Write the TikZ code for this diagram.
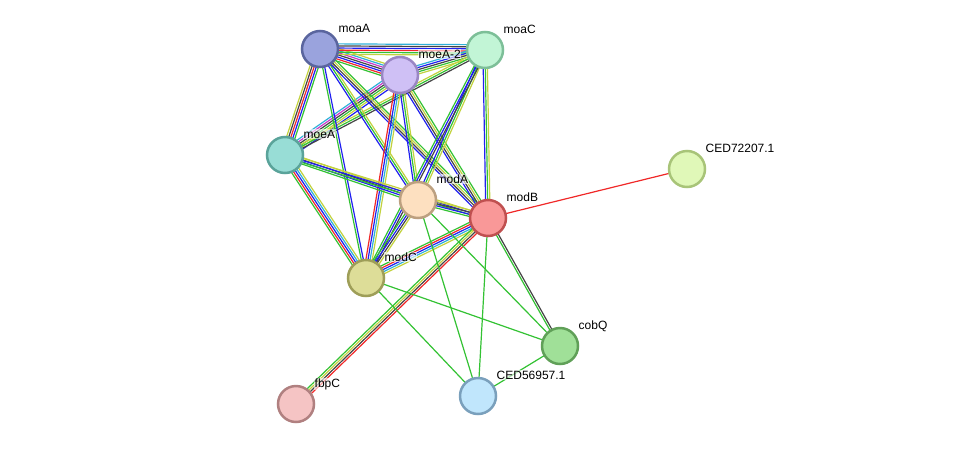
\documentclass[tikz,border=0pt]{standalone}
\usetikzlibrary{calc}
\usepackage{fontspec}
\setmainfont{Liberation Sans}
\definecolor{eyg}{HTML}{C2D23E}
\definecolor{egr}{HTML}{33C233}
\definecolor{ebl}{HTML}{2020F0}
\definecolor{ere}{HTML}{F02828}
\definecolor{ebk}{HTML}{444444}
\definecolor{ecy}{HTML}{30B0D8}
\definecolor{emg}{HTML}{C838C8}
\newcommand\medge[3]{%
 \foreach \c [count=\i] in {#3} {\xdef\nn{\i}}%
 \foreach \c [count=\i] in {#3} {%
  \pgfmathsetmacro\off{(\i-(\nn+1)/2)*2.1}%
  \draw[color=\c,line width=1.2pt] ($(#1)!\off pt!90:(#2)$) -- ($(#2)!\off pt!-90:(#1)$);}}
\tikzset{
 prot/.style={circle,minimum size=36pt,inner sep=0pt,line width=2.5pt},
 lab/.style={anchor=base west,font=\fontsize{12}{14}\selectfont,fill=white,fill opacity=0.6,text opacity=1,inner sep=0.5pt}
}
\begin{document}
\begin{tikzpicture}[x=1pt,y=-1pt]
\useasboundingbox (0,0) rectangle (976,450);
\coordinate (moaA) at (320,49);
\coordinate (moeA2) at (400,75);
\coordinate (moaC) at (485,50);
\coordinate (moeA) at (285,155);
\coordinate (modA) at (418,200);
\coordinate (modB) at (488,218);
\coordinate (ced72) at (687,169);
\coordinate (modC) at (366,278);
\coordinate (cobQ) at (560,346);
\coordinate (fbpC) at (296,404);
\coordinate (ced56) at (478,396);
\medge{moaA}{moeA2}{egr,ere,ebl,ebk,emg,ecy,eyg}
\medge{moaA}{moaC}{eyg,egr,ere,ebl,ebk,ecy}
\medge{moeA2}{moaC}{eyg,egr,ebk,ebl,ecy}
\medge{moaA}{moeA}{eyg,ebk,ere,ebl,egr}
\medge{moeA2}{moeA}{ecy,emg,ebk,egr,eyg,ebl}
\medge{moaC}{moeA}{eyg,egr,ebk}
\medge{moaA}{modA}{ebl,egr,eyg}
\medge{moaA}{modB}{ebl,ebk,eyg,egr}
\medge{moaA}{modC}{egr,ebl}
\medge{moeA2}{modA}{ebl,egr,eyg}
\medge{moeA2}{modB}{ebl,ebk,eyg,egr}
\medge{moeA2}{modC}{ere,ebl,ecy,eyg}
\medge{moaC}{modA}{ebl,egr,eyg}
\medge{moaC}{modB}{ebl,egr,eyg}
\medge{moaC}{modC}{egr,ebl,ebk}
\medge{moeA}{modA}{egr,ebl,ebk,eyg}
\medge{moeA}{modB}{egr,ebl,eyg}
\medge{moeA}{modC}{egr,ere,ebl,ecy,eyg}
\medge{modA}{modB}{egr,ebl,ebk,eyg}
\medge{modA}{modC}{egr,ebl,ebk,eyg}
\medge{modB}{modC}{egr,ere,ebl,ecy,eyg}
\medge{modB}{fbpC}{egr,eyg,ebk,ere}
\medge{modB}{ced72}{ere}
\medge{modB}{cobQ}{egr,ebk}
\medge{modB}{ced56}{egr}
\medge{modA}{ced56}{egr}
\medge{modA}{cobQ}{egr}
\medge{modC}{cobQ}{egr}
\medge{modC}{ced56}{egr}
\medge{cobQ}{ced56}{egr}
\node[prot,fill={rgb,255:red,154;green,163;blue,221},draw={rgb,255:red,90;green,101;blue,158}] (nmoaA) at (moaA) {};
\node[prot,fill={rgb,255:red,207;green,192;blue,245},draw={rgb,255:red,154;green,134;blue,196}] (nmoeA2) at (moeA2) {};
\node[prot,fill={rgb,255:red,194;green,245;blue,214},draw={rgb,255:red,125;green,191;blue,152}] (nmoaC) at (moaC) {};
\node[prot,fill={rgb,255:red,152;green,221;blue,214},draw={rgb,255:red,90;green,163;blue,154}] (nmoeA) at (moeA) {};
\node[prot,fill={rgb,255:red,253;green,224;blue,192},draw={rgb,255:red,188;green,160;blue,128}] (nmodA) at (modA) {};
\node[prot,fill={rgb,255:red,249;green,152;blue,152},draw={rgb,255:red,192;green,80;blue,80}] (nmodB) at (modB) {};
\node[prot,fill={rgb,255:red,224;green,248;blue,184},draw={rgb,255:red,168;green,196;blue,120}] (nced72) at (ced72) {};
\node[prot,fill={rgb,255:red,221;green,221;blue,152},draw={rgb,255:red,158;green,158;blue,88}] (nmodC) at (modC) {};
\node[prot,fill={rgb,255:red,160;green,224;blue,152},draw={rgb,255:red,96;green,160;blue,88}] (ncobQ) at (cobQ) {};
\node[prot,fill={rgb,255:red,245;green,196;blue,196},draw={rgb,255:red,176;green,128;blue,128}] (nfbpC) at (fbpC) {};
\node[prot,fill={rgb,255:red,192;green,230;blue,252},draw={rgb,255:red,122;green,160;blue,188}] (nced56) at (ced56) {};
\node[lab] (lmoaA) at ($(moaA)+(18,-17)$) {moaA};
\node[lab] (lmoeA2) at ($(moeA2)+(18,-17)$) {moeA-2};
\node[lab] (lmoaC) at ($(moaC)+(18,-17)$) {moaC};
\node[lab] (lmoeA) at ($(moeA)+(18,-17)$) {moeA};
\node[lab] (lmodA) at ($(modA)+(18,-17)$) {modA};
\node[lab] (lmodB) at ($(modB)+(18,-17)$) {modB};
\node[lab] (lced72) at ($(ced72)+(18,-17)$) {CED72207.1};
\node[lab] (lmodC) at ($(modC)+(18,-17)$) {modC};
\node[lab] (lcobQ) at ($(cobQ)+(18,-17)$) {cobQ};
\node[lab] (lfbpC) at ($(fbpC)+(18,-17)$) {fbpC};
\node[lab] (lced56) at ($(ced56)+(18,-17)$) {CED56957.1};
\end{tikzpicture}
\end{document}
